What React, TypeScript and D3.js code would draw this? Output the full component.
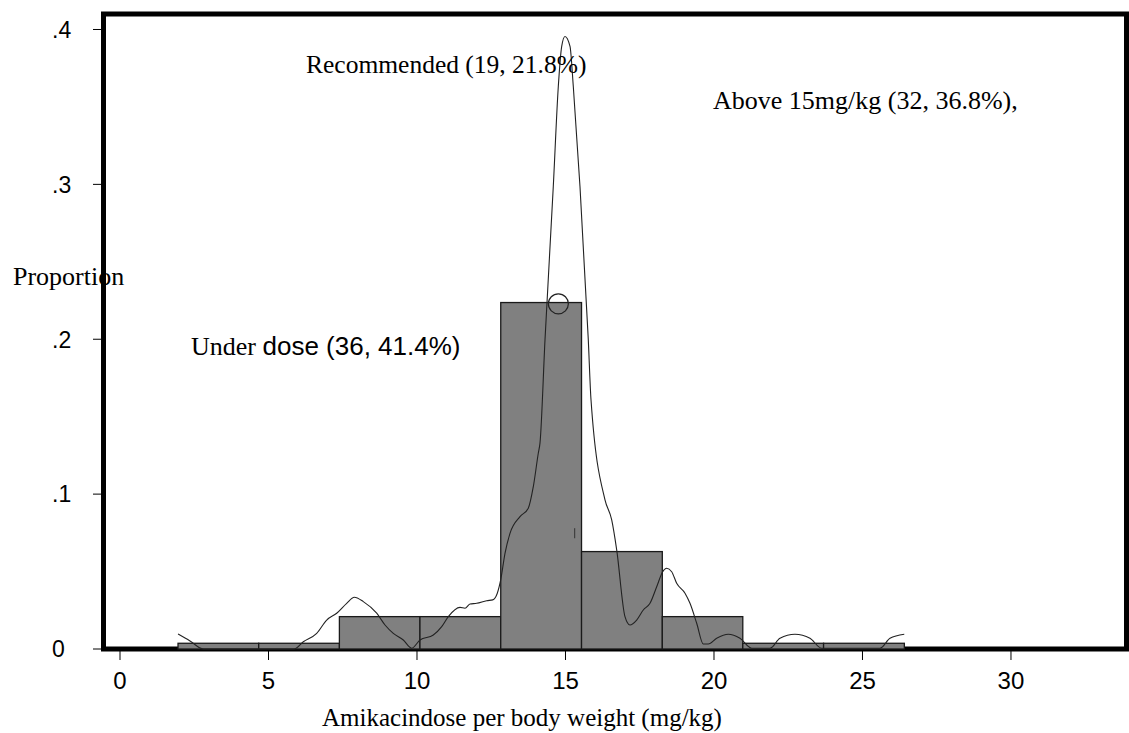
import React from "react";
import * as d3 from "d3";

const WIDTH = 1129;
const HEIGHT = 733;

// histogram (proportion per bin)
const binEdges = [1.953, 4.67, 7.387, 10.1, 12.82, 15.54, 18.26, 20.97, 23.69, 26.41];
const binProps = [0.0037, 0.0037, 0.0209, 0.0209, 0.2237, 0.0629, 0.0209, 0.0037, 0.0037];

// kernel density trace
const densX = [
    1.953, 2.357, 2.805, 5.859, 6.172, 6.623, 6.96, 7.296, 7.633, 7.889, 8.192, 8.643, 8.923,
    9.202, 9.539, 9.822, 10.101, 10.549, 10.832, 11.054, 11.448, 11.616, 11.785, 12.01, 12.347,
    12.549, 12.704, 12.818, 12.963, 13.131, 13.468, 13.747, 13.916, 14.084, 14.141, 14.31, 14.589,
    14.758, 14.872, 14.983, 15.152, 15.263, 15.488, 15.768, 15.859, 16.33, 16.556, 16.724, 17.003,
    17.172, 17.397, 17.62, 17.845, 18.071, 18.273, 18.407, 18.576, 18.744, 19.024, 19.192, 19.418,
    19.64, 19.808, 20.091, 20.481, 20.875, 21.269, 21.886, 22.222, 22.727, 23.232, 23.626, 25.589,
    25.926, 26.407,
];
const densY = [
    0.0097, 0.0052, 0, 0, 0.0047, 0.0101, 0.0187, 0.0231, 0.0295, 0.0334, 0.0306, 0.0231, 0.0155,
    0.0101, 0.0058, 0.0005, 0.0058, 0.009, 0.0144, 0.0209, 0.0269, 0.0263, 0.0291, 0.0295, 0.0312,
    0.0317, 0.036, 0.0446, 0.0618, 0.0747, 0.0855, 0.0909, 0.1048, 0.1264, 0.1329, 0.1996, 0.2986,
    0.3632, 0.3891, 0.3955, 0.3891, 0.3632, 0.2986, 0.1996, 0.1609, 0.0963, 0.0833, 0.064, 0.0209,
    0.0155, 0.0187, 0.0252, 0.0295, 0.0402, 0.0499, 0.0521, 0.0499, 0.0424, 0.036, 0.0295, 0.0166,
    0.0032, 0.0032, 0.0069, 0.0095, 0.0069, 0.0005, 0.0005, 0.0069, 0.0095, 0.0069, 0.0005, 0.0005,
    0.0069, 0.0095,
];

const xTicks = [0, 5, 10, 15, 20, 25, 30];
const yTicks = [0, 0.1, 0.2, 0.3, 0.4];
const yTickLabels = ["0", ".1", ".2", ".3", ".4"];

// the open circle and the small tick mark inside the tall bar
const circlePt = [14.76, 0.2229];
const markPt = [15.31, 0.0715, 0.078];

const SERIF = "'Liberation Serif', 'Times New Roman', serif";
const SANS = "'Liberation Sans', Arial, sans-serif";

export default function App() {
    const x = d3.scaleLinear().domain([-0.556, 33.89]).range([103.5, 1126.5]);
    const y = d3.scaleLinear().domain([0, 0.41]).range([649, 14]);

    const pts: [number, number][] = densX.map((v, i) => [v, densY[i]]);
    const line = d3.line<[number, number]>()
        .x(d => x(d[0]))
        .y(d => y(d[1]))
        .curve(d3.curveMonotoneX);

    const bins = binProps.map((p, i) => ({x0: binEdges[i], x1: binEdges[i + 1], p}));

    return (
        <svg width={WIDTH} height={HEIGHT}
             style={{position: "absolute", left: 0, top: 0, background: "#fff"}}>
            {/* frame */}
            <rect x={x(-0.556)} y={y(0.41)} width={x(33.89) - x(-0.556)} height={y(0) - y(0.41)}
                  fill="none" stroke="#000" strokeWidth={5}/>

            {/* y ticks */}
            {yTicks.map((t, i) => (
                <g key={"y" + i}>
                    <line x1={93} x2={101} y1={y(t)} y2={y(t)} stroke="#000" strokeWidth={1}/>
                    <text x={52} y={y(t)} dy="0.36em" fontFamily={SANS} fontSize={23}>{yTickLabels[i]}</text>
                </g>
            ))}

            {/* x ticks */}
            {xTicks.map(t => (
                <g key={"x" + t}>
                    <line x1={x(t)} x2={x(t)} y1={651} y2={660} stroke="#000" strokeWidth={1}/>
                    <text x={x(t)} y={689} textAnchor="middle" fontFamily={SANS} fontSize={24}>{t}</text>
                </g>
            ))}

            {/* bars */}
            {bins.map((b, i) => (
                <rect key={"b" + i} x={x(b.x0)} y={y(b.p)} width={x(b.x1) - x(b.x0)} height={y(0) - y(b.p)}
                      fill="#808080" stroke="#1a1a1a" strokeWidth={1.3}/>
            ))}

            {/* density */}
            <path d={line(pts) || ""} fill="none" stroke="#222" strokeWidth={1.1}/>

            <circle cx={x(circlePt[0])} cy={y(circlePt[1])} r={10} fill="none" stroke="#222" strokeWidth={1.2}/>
            <line x1={x(markPt[0])} x2={x(markPt[0])} y1={y(markPt[1])} y2={y(markPt[2])} stroke="#333" strokeWidth={1}/>

            {/* labels */}
            <text x={13} y={285} fontFamily={SERIF} fontSize={26}>Proportion</text>
            <text x={322} y={726} fontFamily={SERIF} fontSize={25}>Amikacindose per body weight (mg/kg)</text>
            <text x={306} y={73} fontFamily={SERIF} fontSize={25.5}>Recommended (19, 21.8%)</text>
            <text x={713} y={109} fontFamily={SERIF} fontSize={26}>Above 15mg/kg (32, 36.8%),</text>
            <text x={191} y={355} fontSize={26}>
                <tspan fontFamily={SERIF}>Under </tspan>
                <tspan fontFamily={SANS}>dose (36, 41.4%)</tspan>
            </text>
        </svg>
    );
}
